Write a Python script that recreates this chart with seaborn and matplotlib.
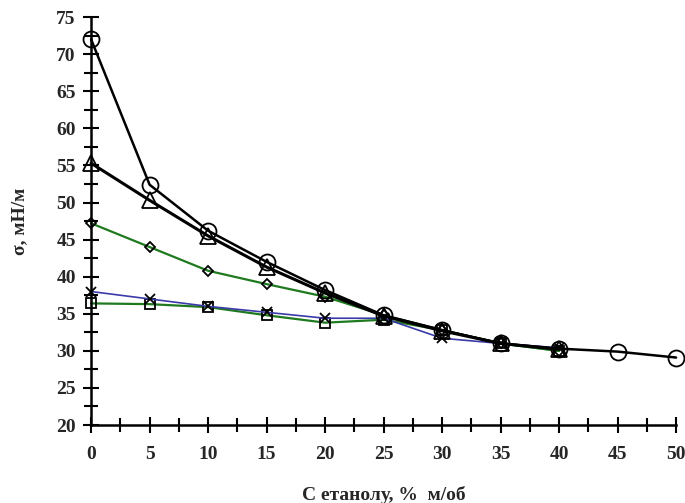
import numpy as np
import pandas as pd
import seaborn as sns
import matplotlib.pyplot as plt
from matplotlib.ticker import MultipleLocator

# ethanol concentration, % v/v
conc = [0, 5, 10, 15, 20, 25, 30, 35, 40, 45, 50]
conc40 = conc[:9]

# surface tension, mN/m
s_square = [36.4, 36.3, 35.9, 34.8, 33.8, 34.2, 32.8, 31.0, 30.0]
s_cross = [38.0, 37.0, 36.0, 35.2, 34.4, 34.4, 31.7, 31.0, 30.4]
s_diamond = [47.2, 44.0, 40.8, 39.0, 37.3, 34.8, 32.8, 31.0, 30.0]
s_triangle = [55.3, 50.3, 45.5, 41.3, 37.8, 34.7, 32.7, 31.0, 30.2]
s_circle = [72.0, 52.4, 46.2, 42.0, 38.2, 34.8, 32.8, 31.0, 30.3, 29.9, 29.1]

series = [
    ('square', conc40, s_square, '#1f7a1f', 1.6, 's', 7),
    ('cross', conc40, s_cross, '#3a3aa8', 1.2, 'x', 7),
    ('diamond', conc40, s_diamond, '#1f7a1f', 1.6, 'D', 5),
    ('triangle', conc40, s_triangle, 'black', 2.2, '^', 11),
    ('circle', conc, s_circle, 'black', 1.8, 'o', 11.5),
]

sns.set_style('white')
plt.rcParams['font.family'] = ['serif']
plt.rcParams['font.serif'] = ['Liberation Serif', 'DejaVu Serif']
plt.rcParams['font.weight'] = 'bold'

fig = plt.figure(figsize=(6.85, 5.03), dpi=100)
ax = fig.add_axes([0.133, 0.155, 0.854, 0.811])

for name, x, y, col, lw, mk, ms in series:
    df = pd.DataFrame({'x': x, 'y': y})
    sns.lineplot(data=df, x='x', y='y', ax=ax, color=col, linewidth=lw,
                 marker=mk, markersize=ms, markerfacecolor='none',
                 markeredgecolor='black', markeredgewidth=1.3, clip_on=False)

ax.set_xlim(0, 50)
ax.set_ylim(20, 75)
ax.xaxis.set_major_locator(MultipleLocator(5))
ax.xaxis.set_minor_locator(MultipleLocator(2.5))
ax.yaxis.set_major_locator(MultipleLocator(5))
ax.yaxis.set_minor_locator(MultipleLocator(2.5))
ax.tick_params(which='both', direction='inout', color='black', width=1.5)
ax.tick_params(which='major', length=12, labelsize=14)
ax.tick_params(which='minor', length=10)
ax.tick_params(axis='x', which='major', pad=9)
ax.tick_params(axis='y', which='major', pad=5)
ax.tick_params(axis='x', which='both', bottom=True)
ax.tick_params(axis='y', which='both', left=True)
for lbl in ax.get_xticklabels() + ax.get_yticklabels():
    lbl.set_fontweight('bold')

for side in ['top', 'right']:
    ax.spines[side].set_visible(False)
for side in ['left', 'bottom']:
    ax.spines[side].set_color('black')
    ax.spines[side].set_linewidth(1.8)

ax.set_xlabel('С етанолу, %  м/об', fontsize=14, fontweight='bold', labelpad=17)
ax.set_ylabel('σ, мН/м', fontsize=14, fontweight='bold', labelpad=20)

fig.savefig('out.png', dpi=100)
